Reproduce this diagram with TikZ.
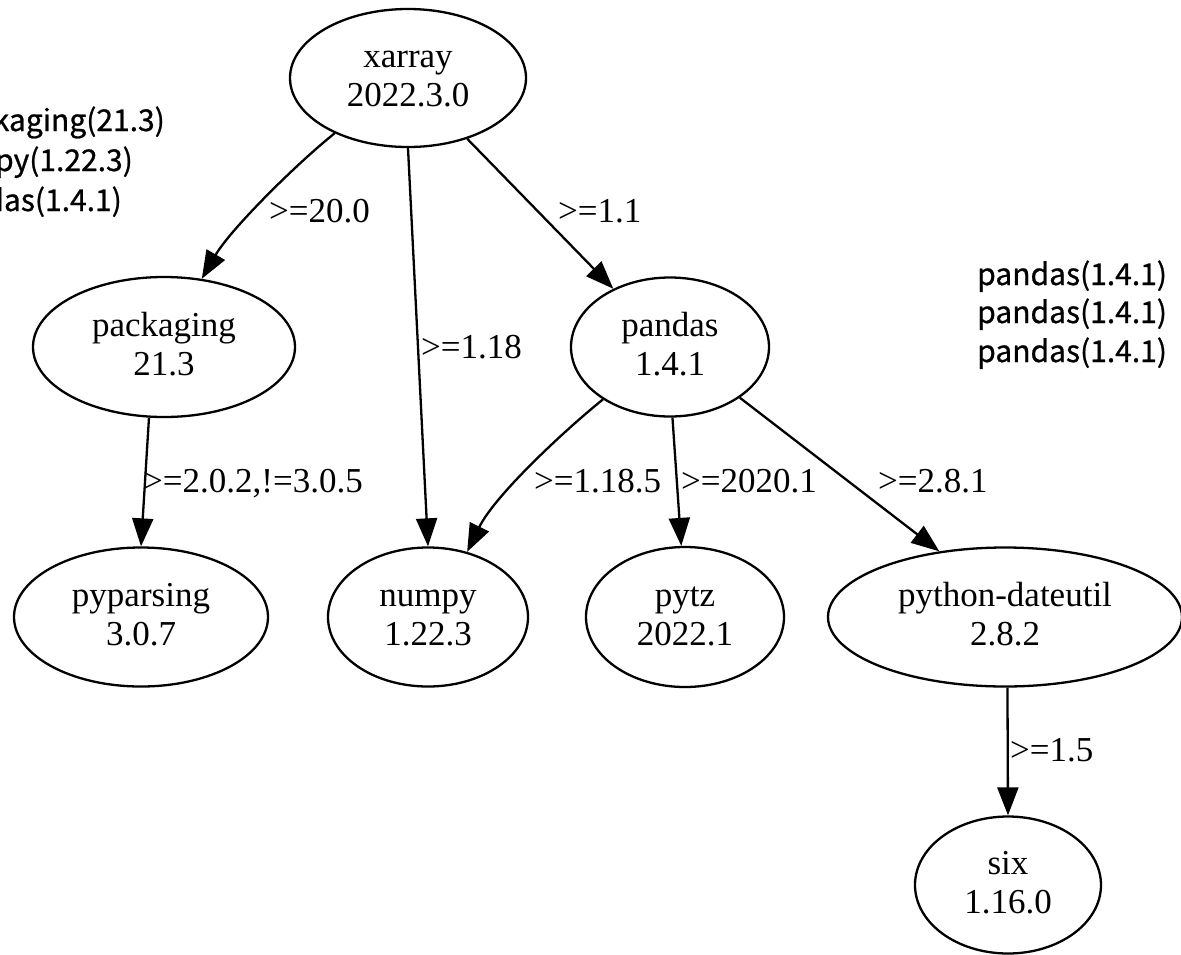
\documentclass[tikz,border=0pt]{standalone}
\usepackage{fontspec}
\setmainfont{Liberation Serif}
\newfontfamily\sidefont[FakeBold=0.8]{Noto Sans CJK KR}
\usetikzlibrary{shapes.geometric,arrows.meta}
\newcommand\twoline[2]{\raisebox{0pt}[19pt][0pt]{#1}\\#2}
\tikzset{
  pkg/.style={draw, ellipse, line width=2.3pt, inner sep=0pt, align=center,
    font=\fontsize{35}{39}\selectfont},
  dep/.style={line width=2.3pt, -{Triangle[length=28pt,width=21pt]}},
  lbl/.style={inner sep=0pt, anchor=base west, font=\fontsize{35}{39}\selectfont},
  side/.style={inner sep=0pt, font=\sidefont\fontsize{30}{36}\selectfont}
}
\begin{document}
\begin{tikzpicture}[x=1pt,y=-1pt]
\path[use as bounding box, clip] (0,0) rectangle (1181,954);
\fill[white] (0,0) rectangle (1181,954);

% nodes
\node[pkg, minimum width=236pt, minimum height=138pt] (xarray) at (408,78) {\twoline{xarray}{2022.3.0}};
\node[pkg, minimum width=262pt, minimum height=140pt] (packaging) at (164,347) {\twoline{packaging}{21.3}};
\node[pkg, minimum width=198pt, minimum height=139pt] (pandas) at (670,347) {\twoline{pandas}{1.4.1}};
\node[pkg, minimum width=254pt, minimum height=139pt] (pyparsing) at (141,617) {\twoline{pyparsing}{3.0.7}};
\node[pkg, minimum width=200pt, minimum height=139pt] (numpy) at (428,617) {\twoline{numpy}{1.22.3}};
\node[pkg, minimum width=198pt, minimum height=140pt] (pytz) at (685,617) {\twoline{pytz}{2022.1}};
\node[pkg, minimum width=354pt, minimum height=139pt] (dateutil) at (1005,617) {\twoline{python-dateutil}{2.8.2}};
\node[pkg, minimum width=186pt, minimum height=137pt] (six) at (1008,885) {\twoline{six}{1.16.0}};

% edges
\draw[dep] (xarray.217) .. controls (295,165) and (230,230) .. (packaging.61)
  node[lbl] at (268,222) {>=20.0};
\draw[dep] (xarray.south) -- (numpy.north)
  node[lbl] at (420,358) {>=1.18};
\draw[dep] (xarray) -- (pandas)
  node[lbl] at (557,222) {>=1.1};
\draw[dep] (packaging.258) -- (pyparsing.north)
  node[lbl] at (142,492) {>=2.0.2,!=3.0.5};
\draw[dep] (pandas.218) .. controls (565,430) and (495,495) .. (numpy.59)
  node[lbl] at (533,492) {>=1.18.5};
\draw[dep] (pandas.272) -- (pytz.93)
  node[lbl] at (680,492) {>=2020.1};
\draw[dep] (pandas.324) -- (dateutil.135)
  node[lbl] at (877,492) {>=2.8.1};
\draw[dep] (dateutil.272) -- (six.north)
  node[lbl] at (1009,761) {>=1.5};

% side texts (cut by the picture border, as in the reference)
\node[side, anchor=base east] (l1) at (165,131) {packaging(21.3)};
\node[side, anchor=base east] (l2) at (133,171) {numpy(1.22.3)};
\node[side, anchor=base east] (l3) at (122,211) {pandas(1.4.1)};
\node[side, anchor=base west] (r1) at (977,285) {pandas(1.4.1)};
\node[side, anchor=base west] (r2) at (977,323) {pandas(1.4.1)};
\node[side, anchor=base west] (r3) at (977,362) {pandas(1.4.1)};
\end{tikzpicture}
\end{document}
